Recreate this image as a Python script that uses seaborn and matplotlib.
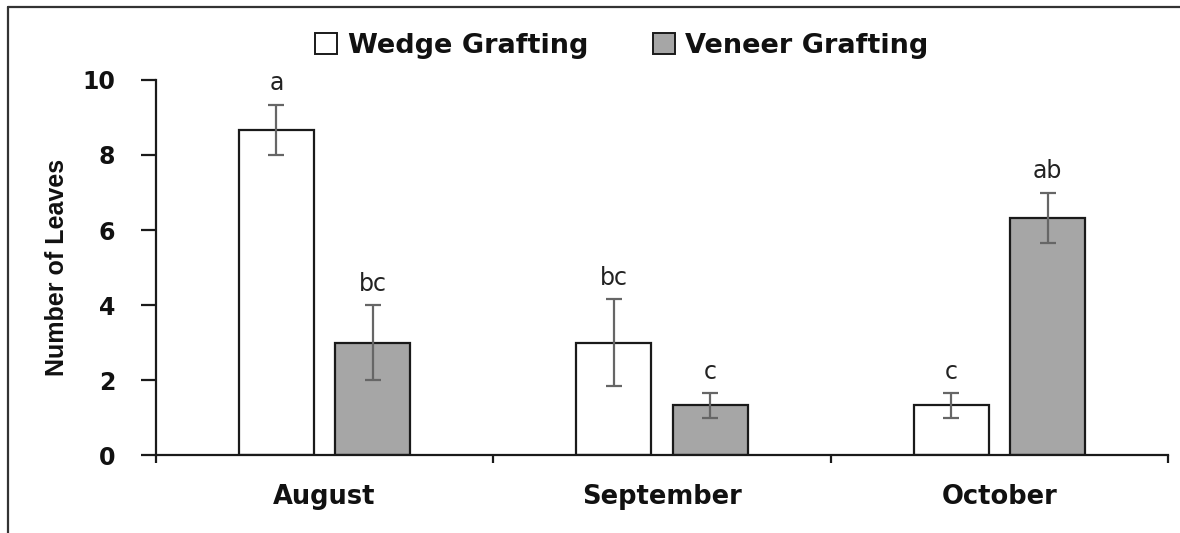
import matplotlib
matplotlib.use("Agg")
import matplotlib.pyplot as plt
import seaborn as sns
import pandas as pd
from matplotlib.lines import Line2D

months = ["August", "September", "October"]
methods = ["Wedge Grafting", "Veneer Grafting"]
wedge_means = [8.67, 3.0, 1.33]
wedge_err = [0.67, 1.15, 0.33]
veneer_means = [3.0, 1.33, 6.33]
veneer_err = [1.0, 0.33, 0.67]
wedge_letters = ["a", "bc", "c"]
veneer_letters = ["bc", "c", "ab"]
yticks = [0, 2, 4, 6, 8, 10]

df = pd.DataFrame({
    "Month": months * 2,
    "Method": [methods[0]] * 3 + [methods[1]] * 3,
    "Leaves": wedge_means + veneer_means,
})

sns.set_theme(style="white")
plt.rcParams["font.family"] = ["DejaVu Sans"]
TXT = "#111111"

fig = plt.figure(figsize=(11.8, 5.33), dpi=100)
ax = fig.add_axes([0.132, 0.146, 0.858, 0.704])

palette = {methods[0]: "#ffffff", methods[1]: "#a6a6a6"}
sns.barplot(data=df, x="Month", y="Leaves", hue="Method", order=months,
            hue_order=methods, palette=palette, width=0.57, gap=0.22,
            edgecolor="#1a1a1a", linewidth=1.6, errorbar=None, ax=ax,
            legend=False)

errs = [wedge_err, veneer_err]
means = [wedge_means, veneer_means]
letters = [wedge_letters, veneer_letters]
bar_conts = list(ax.containers)
for ci, cont in enumerate(bar_conts):
    for bi, bar in enumerate(cont.patches):
        xc = bar.get_x() + bar.get_width() / 2
        m = means[ci][bi]
        e = errs[ci][bi]
        ax.errorbar(xc, m, yerr=e, fmt="none", ecolor="#666666",
                    elinewidth=1.6, capsize=6, capthick=1.6, zorder=5)
        ax.text(xc, m + e + 0.25, letters[ci][bi], ha="center", va="bottom",
                fontsize=17, color="#222222", family="DejaVu Sans")

ax.set_ylim(0, 10)
ax.set_xlim(-0.5, 2.5)
ax.set_yticks(yticks)
ax.set_yticklabels([str(t) for t in yticks], fontsize=17, fontweight="bold",
                   family="DejaVu Sans", color=TXT)
ax.set_xticks(range(3))
ax.set_xticklabels(months, fontsize=18.5, fontweight="bold",
                   family="DejaVu Sans", color=TXT)
ax.set_xticks([-0.5, 0.5, 1.5, 2.5], minor=True)
ax.tick_params(axis="x", which="major", length=0, pad=21)
ax.tick_params(axis="x", which="minor", length=6, width=1.6, direction="out",
               color="#1a1a1a", bottom=True)
ax.tick_params(axis="y", length=11, width=1.6, direction="out",
               color="#1a1a1a", pad=18, left=True)
ax.set_xlabel("")
ax.set_ylabel("Number of Leaves", fontsize=18, fontweight="bold",
              family=["Liberation Sans Narrow", "Liberation Sans"],
              labelpad=10, color=TXT)
for s in ["top", "right"]:
    ax.spines[s].set_visible(False)
for s in ["left", "bottom"]:
    ax.spines[s].set_color("#1a1a1a")
    ax.spines[s].set_linewidth(1.6)

handles = [plt.Rectangle((0, 0), 1, 1, facecolor=palette[m],
                         edgecolor="#1a1a1a", linewidth=1.4) for m in methods]
leg = fig.legend(handles, methods, loc="center", bbox_to_anchor=(0.527, 0.914),
                 ncol=2, frameon=False, handlelength=0.8, handleheight=0.8,
                 handletextpad=0.4, columnspacing=2.4,
                 prop={"size": 19.5, "weight": "bold", "family": "DejaVu Sans"})
for t in leg.get_texts():
    t.set_color(TXT)

# figure border (top and left)
fig.add_artist(Line2D([0.007, 1.0], [0.987, 0.987], transform=fig.transFigure,
                      color="#333333", linewidth=1.6))
fig.add_artist(Line2D([0.007, 0.007], [0.0, 0.987], transform=fig.transFigure,
                      color="#333333", linewidth=1.6))

fig.savefig("out.png", dpi=100)
